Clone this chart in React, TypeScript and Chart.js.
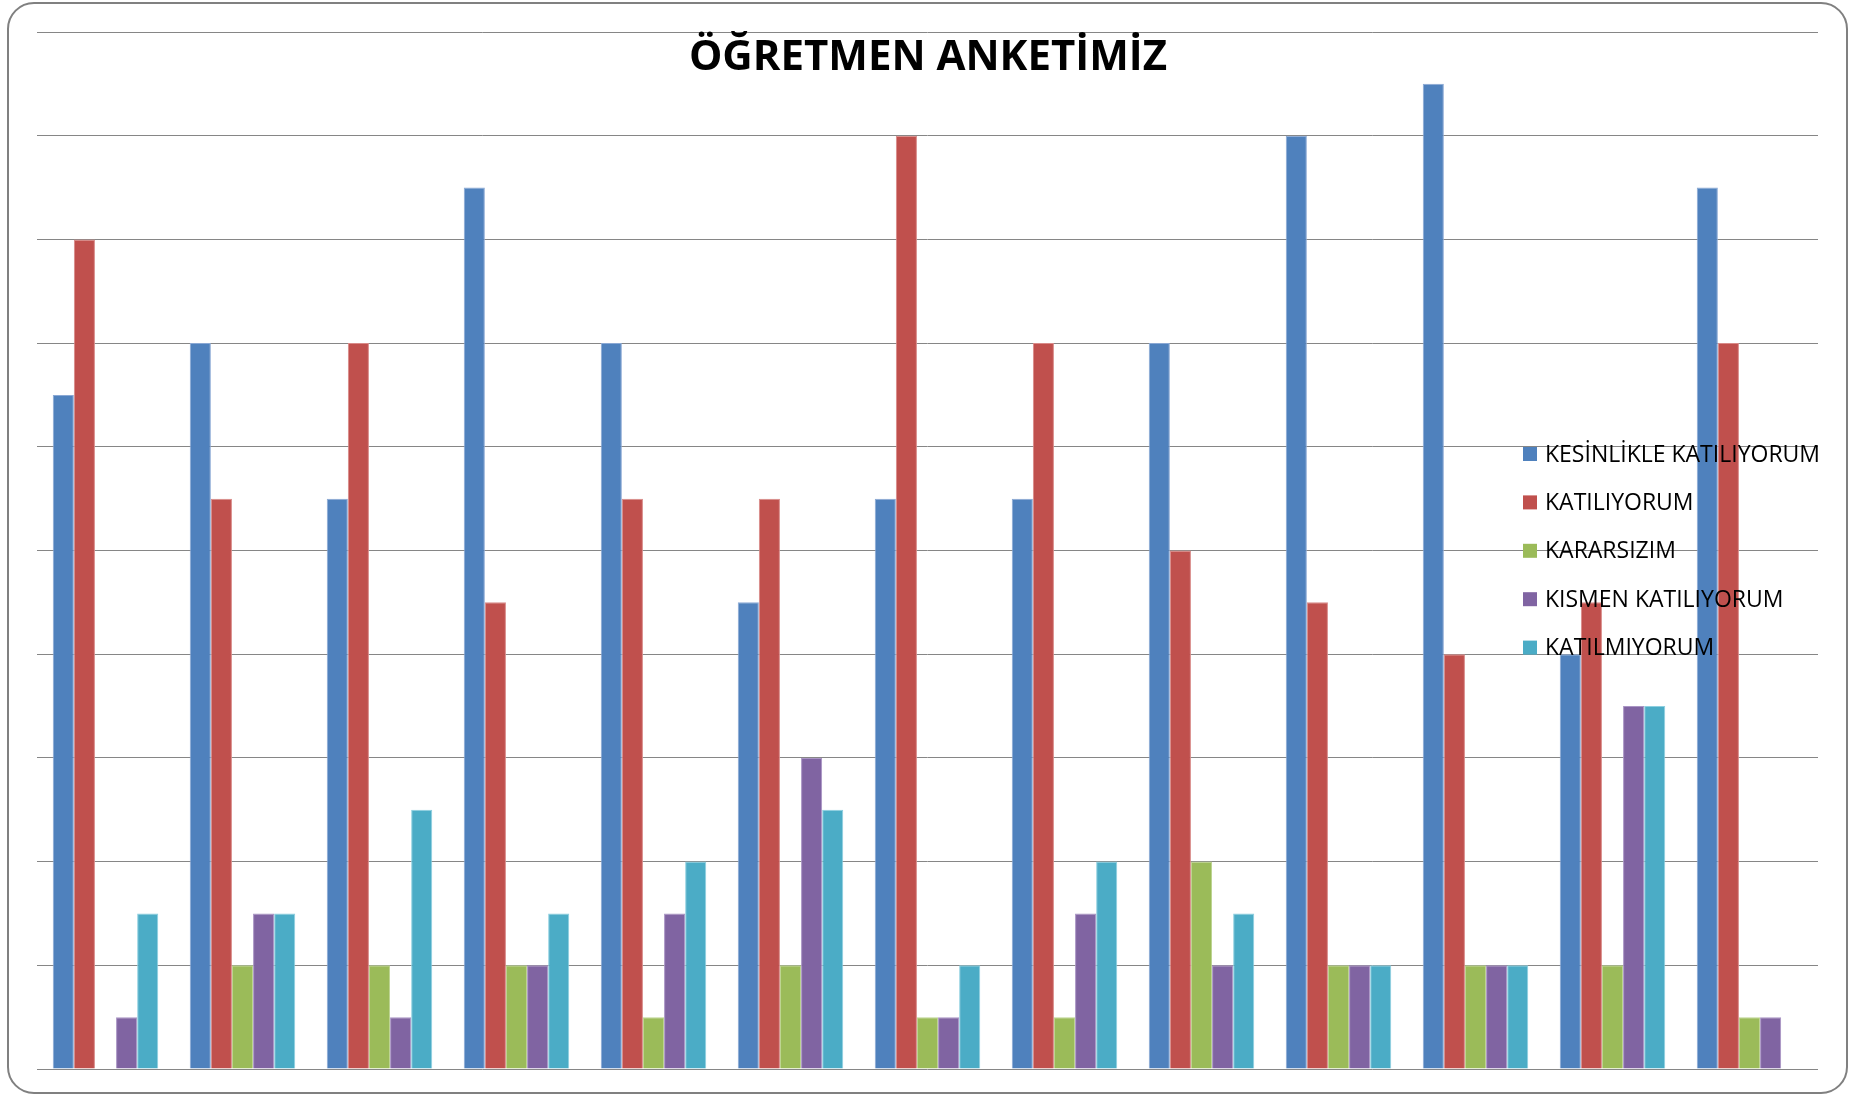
import React, { useEffect, useRef } from "react";
import { Chart, registerables } from "chart.js";

Chart.register(...registerables);

const categories = ["1", "2", "3", "4", "5", "6", "7", "8", "9", "10", "11", "12", "13"];
const seriesNames = ["KESİNLİKLE KATILIYORUM", "KATILIYORUM", "KARARSIZIM", "KISMEN KATILIYORUM", "KATILMIYORUM"];
const kesinlikle = [13, 14, 11, 17, 14, 9, 11, 11, 14, 18, 19, 8, 17];
const katiliyorum = [16, 11, 14, 9, 11, 11, 18, 14, 10, 9, 8, 9, 14];
const kararsizim = [0, 2, 2, 2, 1, 2, 1, 1, 4, 2, 2, 2, 1];
const kismen = [1, 3, 1, 2, 3, 6, 1, 3, 2, 2, 2, 7, 1];
const katilmiyorum = [3, 3, 5, 3, 4, 5, 2, 4, 3, 2, 2, 7, 0];
const yMax = 20;
const yStep = 2;
const title = "ÖĞRETMEN ANKETİMİZ";

const colors = ["#4F81BD", "#C0504D", "#9BBB59", "#8064A2", "#4BACC6"];
const borders = ["#8AA8D4", "#D98A88", "#BCD490", "#A994C4", "#8CCFE0"];

export default function App() {
  const ref = useRef<HTMLCanvasElement | null>(null);
  useEffect(() => {
    document.body.style.margin = "0";
    const all = [kesinlikle, katiliyorum, kararsizim, kismen, katilmiyorum];
    const overlay = {
      id: "overlay",
      beforeDraw(chart: any) {
        const ctx = chart.ctx;
        ctx.save();
        ctx.fillStyle = "#ffffff";
        ctx.fillRect(0, 0, chart.width, chart.height);
        const x = 8, y = 3, w = 1839, h = 1090, r = 26;
        ctx.beginPath();
        ctx.moveTo(x + r, y);
        ctx.lineTo(x + w - r, y);
        ctx.arcTo(x + w, y, x + w, y + r, r);
        ctx.lineTo(x + w, y + h - r);
        ctx.arcTo(x + w, y + h, x + w - r, y + h, r);
        ctx.lineTo(x + r, y + h);
        ctx.arcTo(x, y + h, x, y + h - r, r);
        ctx.lineTo(x, y + r);
        ctx.arcTo(x, y, x + r, y, r);
        ctx.closePath();
        ctx.strokeStyle = "#808080";
        ctx.lineWidth = 2;
        ctx.stroke();
        ctx.restore();
      },
      afterDraw(chart: any) {
        const ctx = chart.ctx;
        ctx.save();
        ctx.fillStyle = "#000";
        ctx.font = "bold 42px 'Open Sans'";
        ctx.textAlign = "center";
        ctx.textBaseline = "alphabetic";
        ctx.fillText(title, 928, 70);
        ctx.font = "23px 'Open Sans'";
        ctx.textAlign = "left";
        ctx.textBaseline = "middle";
        seriesNames.forEach((name, i) => {
          const cy = 454 + i * 48.4;
          ctx.fillStyle = colors[i];
          ctx.fillRect(1523, cy - 7, 14, 14);
          ctx.fillStyle = "#000";
          ctx.fillText(name, 1545, cy + 1);
        });
        ctx.restore();
      },
    };
    const chart = new Chart(ref.current as HTMLCanvasElement, {
      type: "bar",
      data: {
        labels: categories,
        datasets: seriesNames.map((name, i) => ({
          label: name,
          data: all[i],
          backgroundColor: colors[i],
          borderColor: borders[i],
          borderWidth: 1,
          categoryPercentage: 0.77,
          barPercentage: 1.0,
        })),
      },
      options: {
        animation: false,
        responsive: false,
        layout: { padding: { left: 37, top: 32, right: 31, bottom: 27 } },
        plugins: { legend: { display: false }, title: { display: false }, tooltip: { enabled: false } },
        scales: {
          x: { display: false },
          y: {
            min: 0,
            max: yMax,
            ticks: { display: false, stepSize: yStep },
            border: { display: false },
            grid: { drawTicks: false, color: "#868686", lineWidth: 1 },
          },
        },
      },
      plugins: [overlay],
    });
    return () => chart.destroy();
  }, []);
  return (
    <div style={{ width: 1849, height: 1096 }}>
      <canvas ref={ref} width={1849} height={1096} style={{ display: "block" }} />
    </div>
  );
}
